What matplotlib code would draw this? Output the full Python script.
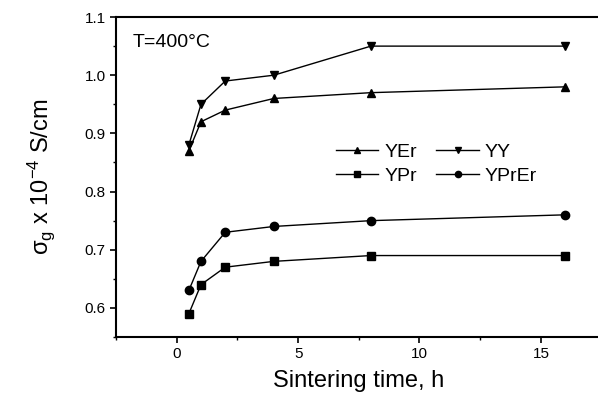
import matplotlib
matplotlib.use('Agg')
import matplotlib.pyplot as plt
from matplotlib.ticker import MultipleLocator

plt.rcParams['font.family'] = ['Liberation Sans', 'DejaVu Sans']
plt.rcParams['mathtext.default'] = 'regular'

time_h = [0.5, 1, 2, 4, 8, 16]
yer = [0.87, 0.92, 0.94, 0.96, 0.97, 0.98]
yy = [0.88, 0.95, 0.99, 1.00, 1.05, 1.05]
ypr = [0.59, 0.64, 0.67, 0.68, 0.69, 0.69]
yprer = [0.63, 0.68, 0.73, 0.74, 0.75, 0.76]

fig = plt.figure(figsize=(5.98, 3.96), dpi=100)
ax = fig.add_axes([0.194, 0.149, 0.812, 0.808])

kw = dict(color='black', lw=1.0, ms=6)
l_yer, = ax.plot(time_h, yer, marker='^', label='YEr', **kw)
l_yy, = ax.plot(time_h, yy, marker='v', label='YY', **kw)
l_ypr, = ax.plot(time_h, ypr, marker='s', label='YPr', **kw)
l_yprer, = ax.plot(time_h, yprer, marker='o', label='YPrEr', **kw)

ax.set_xlim(-2.5, 17.5)
ax.set_ylim(0.55, 1.1)
ax.xaxis.set_major_locator(MultipleLocator(5))
ax.xaxis.set_minor_locator(MultipleLocator(2.5))
ax.yaxis.set_major_locator(MultipleLocator(0.1))
ax.yaxis.set_minor_locator(MultipleLocator(0.05))
ax.yaxis.set_major_formatter(plt.FormatStrFormatter('%.1f'))
ax.tick_params(which='major', direction='out', length=4, width=1.2, labelsize=11)
ax.tick_params(which='minor', direction='out', length=2, width=1.0)
for s in ['left', 'bottom', 'top']:
    ax.spines[s].set_linewidth(1.5)
ax.spines['right'].set_visible(False)

ax.set_xlabel('Sintering time, h', fontsize=17, labelpad=6)
ax.set_ylabel(r'$\sigma_g$ x 10$^{-4}$ S/cm', fontsize=17, labelpad=20)
ax.text(0.035, 0.905, 'T=400°C', transform=ax.transAxes, fontsize=14)

# column-wise fill -> rows read YEr, YY / YPr, YPrEr
ax.legend([l_yer, l_ypr, l_yy, l_yprer], ['YEr', 'YPr', 'YY', 'YPrEr'],
          ncol=2, frameon=False, loc='center', bbox_to_anchor=(0.66, 0.54),
          fontsize=14, handlelength=2.2, markerscale=0.75, columnspacing=1.0,
          handletextpad=0.3, labelspacing=0.35)

fig.savefig('out.png', dpi=100)
